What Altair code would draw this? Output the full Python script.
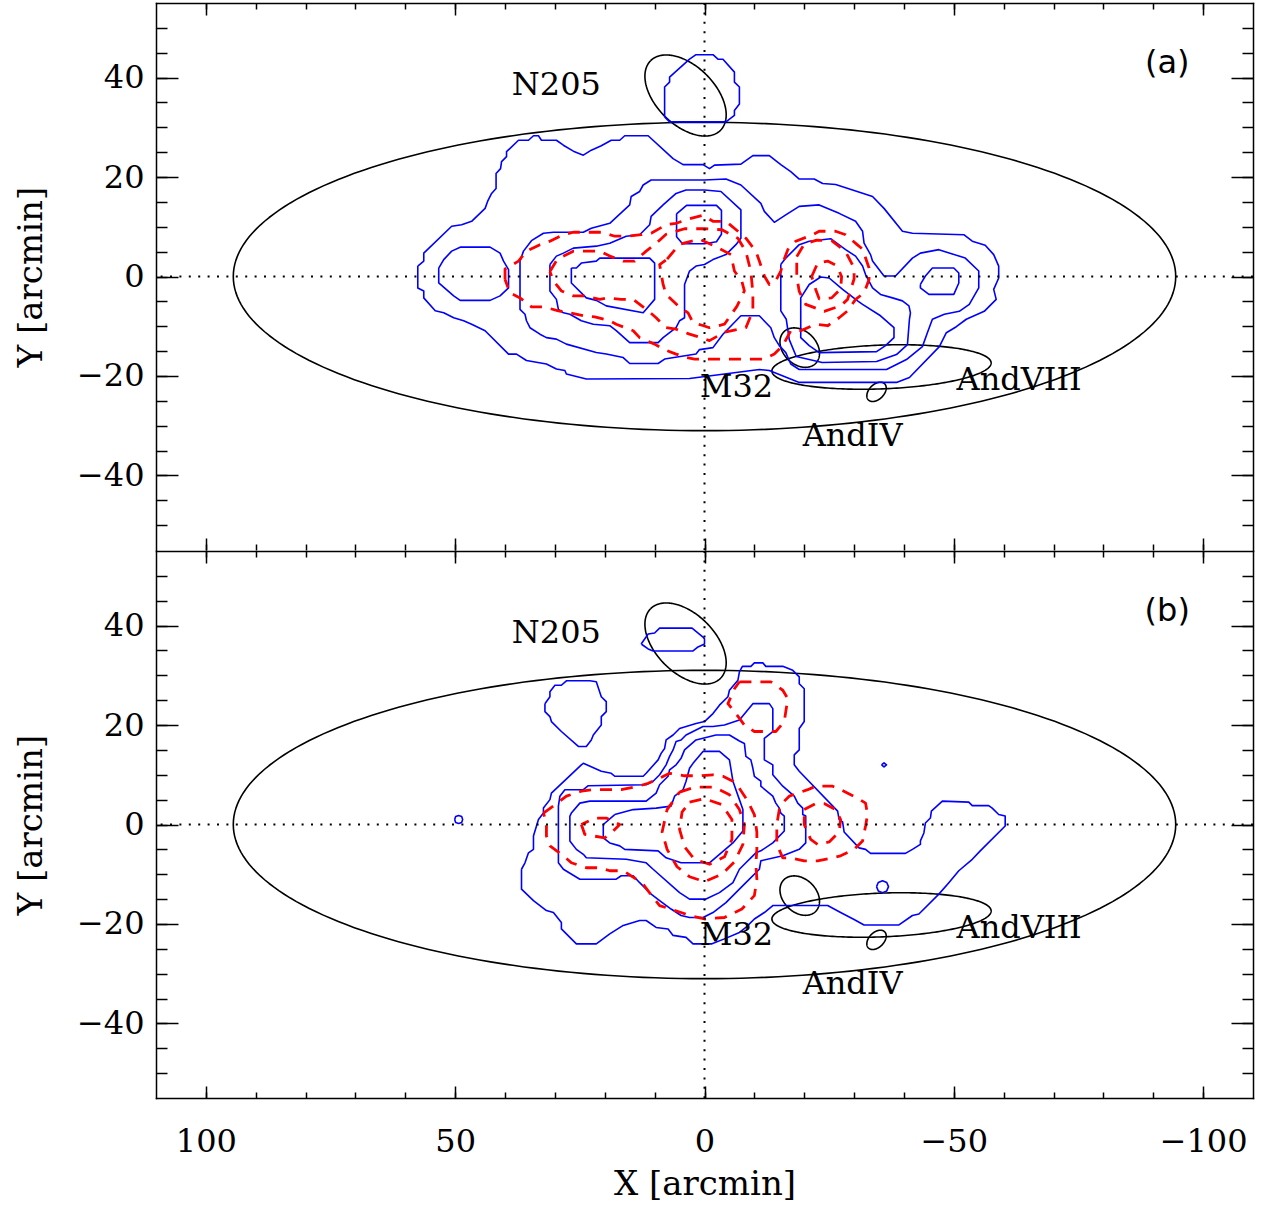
import altair as alt
import numpy as np
import pandas as pd

# ---------------------------------------------------------------
# Density contours, traced in arcmin (X, Y); each list is a closed loop
# ---------------------------------------------------------------

# Panel (a): blue (solid) levels
A_BLUE_OUTER = [
    (57.5, 2.1), (56.3, 3.1), (56.3, 4.7), (50.7, 10.1), (48.7, 10.4), (46.7, 11.1),
    (44.0, 13.7), (43.5, 15.1), (42.7, 16.7), (41.8, 17.7), (41.8, 20.7), (40.9, 21.7),
    (40.7, 23.1), (39.7, 24.1), (39.7, 25.1), (37.3, 27.4), (35.3, 27.4), (34.3, 28.3),
    (33.3, 28.3), (32.7, 27.4), (29.7, 27.4), (28.3, 26.4), (26.3, 25.2), (24.3, 24.4),
    (22.7, 25.4), (20.7, 26.3), (18.7, 27.4), (17.0, 27.4), (16.0, 28.3), (11.3, 28.3),
    (6.3, 23.7), (4.3, 22.5), (0.3, 22.5), (-1.0, 21.7), (-2.0, 22.4), (-7.3, 22.6),
    (-9.7, 24.3), (-13.0, 24.3), (-15.3, 22.5), (-17.3, 21.1), (-19.0, 19.6), (-22.0, 19.6),
    (-23.7, 18.7), (-26.3, 18.5), (-29.7, 17.4), (-33.7, 16.1), (-36.0, 13.7), (-39.7, 9.1),
    (-41.7, 8.7), (-52.0, 8.4), (-53.7, 7.1), (-56.3, 6.3), (-58.0, 4.4), (-59.0, 2.1),
    (-59.0, -0.3), (-58.0, -2.6), (-58.5, -4.6), (-56.1, -7.0), (-52.5, -8.6), (-50.5, -10.1),
    (-48.5, -11.3), (-47.1, -14.1), (-41.1, -20.3), (-38.5, -21.3), (-19.0, -21.3),
    (-17.0, -20.5), (-13.0, -18.9), (-11.0, -18.7), (3.0, -20.5), (23.7, -20.6),
    (27.7, -19.6), (28.0, -18.9), (29.7, -18.6), (31.7, -17.6), (35.7, -16.9), (37.7, -15.6),
    (39.3, -15.6), (44.0, -10.9), (46.7, -9.6), (48.3, -8.9), (50.3, -8.3), (52.3, -7.3),
    (54.0, -6.9), (56.3, -4.3), (56.3, -2.9), (57.5, -2.3),
]
A_BLUE_LEVEL2 = [
    (37.0, 3.1), (36.3, 5.1), (34.7, 7.2), (32.3, 8.7), (30.3, 8.9), (24.3, 8.9), (22.7, 9.7),
    (19.0, 10.7), (15.0, 14.4), (14.7, 16.1), (13.0, 17.1), (12.3, 18.4), (10.7, 19.4),
    (0.0, 19.4), (-4.3, 19.6), (-7.3, 18.4), (-11.3, 14.7), (-12.0, 13.1), (-14.0, 10.9),
    (-16.3, 12.4), (-19.0, 14.1), (-23.0, 14.4), (-27.0, 12.7), (-30.3, 11.1), (-31.7, 9.1),
    (-32.0, 6.7), (-33.3, 4.4), (-33.7, 3.1), (-36.0, 0.1), (-38.3, 0.1), (-41.7, 3.7),
    (-43.3, 4.7), (-47.0, 5.4), (-52.3, 3.7), (-55.0, 1.1), (-55.0, -2.3), (-53.1, -5.6),
    (-51.1, -7.0), (-48.1, -7.6), (-45.7, -8.6), (-44.7, -11.3), (-43.7, -14.1), (-40.5, -16.7),
    (-36.5, -18.7), (-19.0, -18.7), (-17.3, -17.6), (-16.3, -15.3), (-15.0, -13.9),
    (-14.0, -12.3), (-13.3, -10.3), (-11.0, -7.9), (-7.3, -7.9), (-3.7, -11.6), (-1.7, -14.3),
    (1.0, -14.7), (1.7, -15.6), (8.0, -16.6), (9.3, -17.5), (15.0, -17.5), (16.3, -16.3),
    (19.7, -15.6), (21.7, -15.3), (27.7, -13.6), (29.7, -12.6), (31.7, -12.3), (33.0, -11.6),
    (35.0, -10.3), (35.7, -8.9), (36.0, -7.6), (37.0, -6.6),
]
A_BLUE_LEVEL3 = [
    (31.0, 2.4), (29.7, 4.1), (28.3, 4.7), (26.3, 5.7), (21.7, 6.1), (19.0, 6.7), (15.7, 8.1),
    (13.0, 8.4), (12.3, 9.1), (11.0, 10.4), (10.7, 12.1), (8.3, 14.4), (5.7, 16.7), (3.7, 17.4),
    (0.0, 17.4), (-3.3, 17.1), (-7.3, 13.4), (-7.3, 7.7), (-6.3, 6.4), (-4.3, 4.4), (-1.7, 3.4),
    (0.0, 2.4), (1.7, 2.1), (3.0, 1.1), (4.0, -1.6), (4.0, -8.3), (5.0, -8.9), (5.7, -10.3),
    (8.3, -12.3), (9.3, -13.3), (15.0, -13.3), (17.7, -10.9), (19.0, -9.9), (22.3, -9.6),
    (24.7, -8.9), (27.0, -7.6), (28.3, -7.3), (29.3, -6.6), (29.7, -4.6), (31.0, -2.9),
]
A_BLUE_INNER_WEST = [
    (26.7, 1.7), (26.7, -1.3), (23.7, -4.3), (21.7, -4.8), (19.7, -5.9), (12.3, -7.3),
    (10.0, -4.6), (10.0, 2.7), (11.0, 3.7), (21.0, 3.7), (21.7, 3.1), (24.7, 2.7), (25.7, 1.7),
]
A_BLUE_INNER_NORTH = [
    (5.6, 12.6), (3.6, 14.3), (-2.4, 14.3), (-3.4, 13.3), (-3.4, 8.5), (-2.4, 7.0),
    (0.0, 6.6), (4.4, 6.6), (5.6, 8.0),
]
A_BLUE_EAST_L3 = [
    (-15.3, 2.4), (-16.3, 3.7), (-19.0, 6.4), (-21.0, 7.1), (-25.3, 7.6), (-28.3, 5.4),
    (-30.3, 4.1), (-31.7, 2.1), (-32.3, 0.4), (-33.7, -2.3), (-35.3, -3.6), (-37.7, -4.3),
    (-39.7, -4.9), (-41.0, -5.9), (-41.3, -7.3), (-41.1, -8.6), (-40.7, -13.7), (-38.5, -15.7),
    (-34.5, -17.1), (-23.6, -17.3), (-18.4, -16.1), (-17.0, -12.7), (-16.4, -8.6), (-15.3, -6.9),
]
A_BLUE_EAST_L4 = [
    (-23.3, -0.1), (-25.0, -0.3), (-27.7, -2.6), (-30.7, -4.9), (-31.7, -5.6), (-35.3, -7.9),
    (-38.0, -10.3), (-38.0, -12.3), (-36.3, -13.9), (-34.5, -15.1), (-23.0, -15.3),
    (-21.0, -13.9), (-19.3, -12.3), (-19.3, -4.3), (-21.0, -1.6),
]
A_BLUE_WEST_KNOT = [
    (53.3, 1.7), (52.3, 3.4), (50.7, 5.1), (49.0, 5.9), (43.0, 5.9), (41.0, 4.7), (40.3, 3.1),
    (39.3, 1.4), (39.3, -2.3), (41.0, -3.9), (43.0, -4.8), (49.0, -4.8), (50.3, -3.9),
    (53.3, -1.3),
]
A_BLUE_EAST_KNOT = [
    (-43.3, -1.6), (-44.3, 0.1), (-45.7, 1.7), (-50.0, 1.7), (-51.0, 0.7), (-51.0, -1.3),
    (-50.0, -3.6), (-45.0, -3.6), (-43.3, -2.3),
]
A_BLUE_N205 = [
    (8.0, 32.1), (8.0, 38.1), (7.0, 39.1), (7.0, 40.1), (3.0, 43.7), (1.7, 44.6), (-1.7, 44.6),
    (-2.7, 43.7), (-3.7, 43.7), (-6.0, 41.1), (-6.0, 39.1), (-7.0, 38.1), (-7.0, 34.7),
    (-6.0, 33.4), (-6.0, 32.4), (-4.3, 31.1), (7.0, 31.1),
]

# Panel (a): red (dashed) levels
A_RED_OUTER = [
    (40.0, -0.6), (40.0, 1.5), (37.3, 3.1), (35.7, 5.1), (33.0, 6.4), (31.0, 7.1), (28.3, 8.4),
    (26.3, 8.9), (20.7, 8.9), (18.0, 8.1), (15.7, 8.1), (12.7, 8.4), (10.7, 8.7), (7.7, 10.4),
    (5.7, 10.7), (3.0, 11.6), (0.3, 12.3), (-1.7, 11.1), (-4.3, 11.1), (-6.7, 9.1), (-8.3, 7.7),
    (-10.3, 5.1), (-11.0, 3.1), (-12.0, 0.1), (-13.0, -1.6), (-14.2, -1.0), (-15.3, 1.1),
    (-16.0, 3.5), (-16.7, 5.4), (-18.3, 7.1), (-21.7, 8.4), (-23.0, 9.1), (-26.3, 9.1),
    (-28.3, 8.4), (-30.5, 6.5), (-31.7, 5.5), (-33.0, 1.7), (-33.0, -0.6), (-32.0, -3.3),
    (-30.3, -4.6), (-28.7, -6.9), (-27.0, -8.3), (-24.7, -9.9), (-22.3, -9.6), (-19.3, -10.9),
    (-17.3, -10.9), (-15.7, -13.9), (-14.0, -15.6), (-12.0, -16.6), (2.0, -16.6), (3.7, -16.3),
    (5.7, -15.6), (8.3, -14.6), (10.0, -13.6), (13.0, -12.3), (14.3, -10.9), (17.7, -9.6),
    (19.0, -8.9), (22.0, -8.1), (24.3, -7.9), (27.0, -7.3), (29.3, -6.9), (32.3, -6.1),
    (34.7, -6.1), (37.0, -4.3), (39.0, -3.3),
]
A_RED_MIDDLE = [
    (31.0, 1.0), (29.5, 3.5), (26.3, 5.1), (21.0, 5.1), (19.0, 4.1), (16.3, 3.1), (14.0, 3.1),
    (11.7, 5.1), (10.0, 6.4), (7.7, 8.5), (4.0, 9.6), (0.0, 9.6), (-3.5, 9.4), (-6.7, 7.7),
    (-8.3, 5.0), (-9.3, 1.0), (-9.7, -3.3), (-9.7, -6.9), (-8.3, -10.3), (-4.0, -11.2),
    (-1.0, -12.9), (0.7, -12.3), (3.0, -11.6), (5.7, -10.6), (7.7, -10.3), (9.7, -8.3),
    (11.3, -6.9), (14.3, -4.6), (16.7, -4.6), (19.3, -4.3), (21.0, -4.6), (24.3, -3.9),
    (26.3, -3.9), (28.7, -2.9), (30.3, -0.9),
]
A_RED_CORE = [
    (7.5, 3.5), (5.0, 6.5), (1.0, 7.5), (-2.3, 6.0), (-5.3, 4.4), (-6.0, 1.1), (-7.5, -1.0),
    (-8.0, -2.9), (-6.5, -6.0), (-4.0, -9.6), (-1.0, -10.3), (0.5, -9.8), (2.3, -9.3),
    (3.3, -7.3), (5.3, -5.9), (7.7, -3.6), (8.3, -1.6), (9.0, 2.4),
]
A_RED_EAST_MID = [
    (-18.5, 4.0), (-20.0, 6.5), (-22.5, 7.3), (-25.5, 7.2), (-28.3, 5.0), (-30.0, 1.7),
    (-30.0, -0.5), (-28.7, -4.6), (-27.3, -5.9), (-24.0, -7.0), (-20.3, -5.6), (-19.0, -3.0),
    (-18.5, 0.0),
]
A_RED_EAST_CORE = [
    (-21.5, 0.0), (-22.7, 2.7), (-24.7, 3.1), (-26.5, 2.2), (-27.5, 0.0), (-27.3, -2.5),
    (-25.5, -4.3), (-23.0, -4.5), (-22.3, -2.6),
]

# Panel (b): blue (solid) levels
B_BLUE_OUTER = [
    (36.7, -9.0), (36.0, -7.7), (35.3, -5.7), (34.3, -5.0), (34.3, -2.3), (33.3, 1.0),
    (32.3, 2.3), (32.3, 3.3), (31.0, 5.0), (30.7, 6.3), (24.7, 12.0), (24.3, 12.3),
    (20.7, 10.7), (18.7, 10.3), (18.0, 9.7), (12.3, 9.7), (11.7, 10.3), (9.3, 13.0),
    (8.7, 14.3), (8.0, 15.3), (7.7, 17.0), (6.3, 18.0), (5.0, 19.3), (1.7, 20.3), (0.0, 20.7),
    (-1.7, 22.3), (-3.0, 24.0), (-4.7, 25.7), (-5.0, 27.0), (-6.7, 29.0), (-7.0, 30.7),
    (-7.6, 31.8), (-9.3, 31.8), (-10.0, 32.5), (-11.7, 32.5), (-12.3, 31.8), (-15.7, 31.8),
    (-17.7, 31.0), (-19.0, 29.7), (-19.0, 28.3), (-20.0, 27.3), (-20.0, 20.7), (-19.0, 19.3),
    (-19.0, 15.0), (-18.0, 14.0), (-18.0, 12.0), (-19.0, 10.7), (-26.7, 2.7), (-27.0, 1.0),
    (-27.7, 0.5), (-28.0, -1.5), (-31.0, -4.7), (-32.3, -5.0), (-33.3, -5.8), (-40.3, -5.8),
    (-41.7, -5.0), (-43.3, -4.0), (-43.3, -3.3), (-44.0, -1.7), (-44.3, 0.3), (-45.3, 1.3),
    (-45.5, 2.7), (-47.7, 4.7), (-53.0, 4.5), (-53.7, 3.8), (-57.0, 3.8), (-57.7, 3.3),
    (-59.0, 2.0), (-60.3, 1.7), (-60.3, -0.3), (-55.3, -5.3), (-53.7, -7.0), (-51.0, -9.3),
    (-49.0, -11.7), (-47.0, -14.0), (-43.0, -18.0), (-41.7, -18.3), (-39.0, -20.2),
    (-32.0, -20.2), (-30.0, -19.1), (-27.3, -17.7), (-24.7, -16.3), (-13.7, -16.3),
    (-12.0, -17.7), (-10.0, -19.0), (-8.3, -20.7), (-7.0, -21.7), (-4.0, -23.0), (-1.5, -24.0),
    (2.3, -24.0), (3.7, -22.7), (6.3, -22.3), (7.3, -21.0), (9.7, -20.7), (11.7, -19.3),
    (13.0, -19.3), (16.3, -20.3), (19.0, -22.0), (21.7, -24.0), (25.7, -24.0), (28.7, -21.0),
    (28.7, -19.7), (30.3, -17.7), (31.7, -17.3), (34.3, -15.3), (36.7, -13.0),
]
B_BLUE_LEVEL2 = [
    (-1.7, 19.7), (0.3, 19.7), (2.3, 18.7), (3.7, 18.0), (4.7, 17.0), (5.7, 16.7), (6.3, 15.0),
    (7.0, 13.7), (7.7, 12.0), (9.0, 10.0), (10.3, 8.7), (11.7, 8.0), (23.3, 7.8), (24.3, 7.0),
    (28.0, 7.0), (29.0, 5.7), (29.3, 3.7), (29.3, -7.7), (28.3, -9.0), (25.0, -11.0),
    (17.7, -11.0), (16.7, -10.3), (14.3, -10.3), (13.0, -11.7), (10.7, -14.0), (9.0, -15.3),
    (6.7, -17.0), (4.7, -18.3), (3.0, -18.7), (0.3, -18.7), (-1.7, -17.7), (-4.3, -15.7),
    (-6.3, -13.7), (-8.3, -11.7), (-11.0, -9.0), (-11.3, -7.3), (-15.7, -6.3), (-19.0, -5.0),
    (-20.3, -3.7), (-20.3, 1.7), (-19.7, 2.0), (-19.7, 3.3), (-18.7, 4.3), (-18.0, 5.7),
    (-15.7, 7.7), (-13.7, 10.0), (-13.7, 12.0), (-12.0, 13.0), (-12.0, 17.3), (-13.7, 18.7),
    (-13.7, 23.3), (-13.0, 24.3), (-9.7, 24.3), (-7.0, 21.0), (-4.0, 20.0),
]
B_BLUE_LEVEL3 = [
    (27.0, 1.7), (26.7, 2.3), (25.0, 4.3), (23.0, 4.7), (11.7, 4.7), (9.7, 6.3), (9.0, 8.0),
    (7.3, 9.7), (7.0, 11.0), (5.7, 12.0), (4.7, 13.3), (4.0, 15.0), (1.7, 17.0), (-2.3, 18.0),
    (-5.0, 18.0), (-7.0, 16.8), (-8.0, 16.3), (-8.3, 13.7), (-9.3, 13.0), (-9.7, 11.3),
    (-10.0, 9.7), (-11.3, 8.7), (-11.3, 7.7), (-13.7, 5.7), (-14.3, 4.3), (-15.0, 3.3),
    (-15.3, 2.3), (-16.0, 1.7), (-16.0, -1.3), (-13.7, -3.7), (-11.3, -5.3), (-10.3, -5.7),
    (-9.7, -6.3), (-8.3, -7.7), (-7.0, -9.0), (-5.7, -11.7), (-3.0, -13.7), (-0.3, -15.0),
    (3.0, -15.0), (5.0, -13.7), (10.3, -9.0), (11.7, -7.7), (15.7, -7.0), (23.7, -6.7),
    (24.3, -6.0), (25.7, -5.0), (27.0, -3.3),
]
B_BLUE_CORE = [
    (18.0, 2.0), (20.3, 0.0), (20.3, -2.7), (19.0, -3.7), (17.0, -4.3), (16.0, -5.0),
    (9.3, -5.3), (7.7, -6.7), (4.7, -7.7), (-1.0, -7.7), (-5.7, -3.7), (-7.7, -1.3),
    (-7.7, 3.0), (-7.0, 5.0), (-5.7, 8.7), (-5.0, 13.0), (-3.0, 14.7), (0.3, 14.7), (2.3, 12.3),
    (3.0, 11.3), (3.7, 8.7), (4.3, 7.0), (6.0, 5.7), (6.7, 3.7), (9.7, 3.3), (14.3, 3.0),
]
B_BLUE_NORTH_KNOT = [
    (32.0, 24.3), (32.0, 22.7), (31.0, 21.7), (30.7, 20.7), (28.7, 18.7), (25.3, 15.7),
    (23.7, 15.7), (22.7, 17.0), (22.3, 18.0), (20.7, 20.0), (20.7, 21.7), (19.7, 22.7),
    (19.7, 24.7), (20.7, 25.7), (21.7, 28.7), (23.0, 28.9), (27.7, 28.9), (28.7, 28.0),
    (30.0, 28.0), (31.0, 26.7), (31.0, 25.7),
]
B_BLUE_N205 = [
    (12.7, 36.3), (11.3, 38.3), (10.0, 38.5), (9.0, 39.5), (2.5, 39.5), (0.3, 37.7), (0.0, 37.3),
    (0.0, 36.3), (1.3, 35.7), (2.3, 34.9), (10.3, 34.9), (11.3, 35.3),
]
B_BLUE_SPECK_WEST = [
    (50.1, 1.0), (49.9, 1.6), (49.3, 1.8), (48.7, 1.6), (48.5, 1.0), (48.7, 0.4), (49.3, 0.2),
    (49.9, 0.4),
]
B_BLUE_SPECK_SOUTH = [
    (-34.5, -12.5), (-34.85, -11.65), (-35.7, -11.3), (-36.55, -11.65), (-36.9, -12.5),
    (-36.55, -13.35), (-35.7, -13.7), (-34.85, -13.35),
]
B_BLUE_SPECK_NORTH = [(-35.5, 12.0), (-36.0, 12.4), (-36.5, 12.0), (-36.0, 11.6)]

# Panel (b): red (dashed) levels
B_RED_OUTER = [
    (32.3, 2.3), (29.0, 4.7), (27.7, 5.7), (24.7, 6.7), (22.3, 7.0), (16.7, 7.0), (13.3, 7.7),
    (11.3, 8.3), (9.0, 9.3), (7.0, 10.3), (4.0, 9.8), (1.0, 9.8), (-1.7, 10.0), (-3.7, 9.7),
    (-5.7, 8.7), (-6.7, 7.7), (-8.5, 5.0), (-10.0, 2.0), (-10.5, -1.5), (-10.5, -5.0),
    (-10.3, -8.0), (-10.5, -11.0), (-10.0, -14.3), (-7.5, -17.0), (-4.0, -18.7), (0.0, -19.0),
    (3.0, -18.3), (4.7, -17.7), (9.0, -16.3), (10.3, -14.7), (12.3, -12.0), (13.7, -11.0),
    (16.3, -9.3), (19.0, -9.3), (21.3, -8.7), (23.7, -8.7), (26.7, -7.7), (28.3, -6.3),
    (31.0, -4.3), (31.7, -2.3), (31.7, 0.3),
]
B_RED_EAST = [
    (-16.0, 4.7), (-17.0, 5.7), (-20.7, 7.0), (-22.3, 7.7), (-25.7, 7.7), (-27.3, 7.0),
    (-30.7, 5.3), (-32.3, 4.3), (-32.7, 2.0), (-32.3, -0.3), (-31.7, -3.3), (-30.0, -5.0),
    (-27.3, -6.3), (-25.7, -6.7), (-22.7, -7.3), (-20.0, -7.3), (-17.3, -6.7), (-15.7, -6.7),
    (-14.5, -4.0), (-14.5, 0.0), (-15.0, 3.0),
]
B_RED_ARM = [
    (-7.0, 28.7), (-13.3, 28.7), (-15.7, 27.0), (-16.7, 25.3), (-16.3, 22.7), (-16.0, 20.7),
    (-14.3, 18.7), (-10.0, 18.7), (-8.0, 20.0), (-6.0, 22.7), (-4.7, 24.3), (-6.0, 27.3),
]
B_RED_MIDDLE = [
    (5.0, 6.5), (2.0, 7.5), (-2.0, 7.5), (-5.0, 6.0), (-7.0, 3.0), (-8.0, 0.0), (-7.7, -4.0),
    (-6.0, -7.5), (-3.5, -10.0), (0.0, -11.5), (3.0, -10.5), (5.5, -8.5), (7.5, -5.0),
    (8.5, -1.5), (7.5, 3.0),
]
B_RED_CORE = [
    (3.0, 4.5), (0.0, 5.2), (-3.5, 4.0), (-5.5, 1.0), (-5.5, -3.0), (-4.0, -6.5), (-1.0, -8.0),
    (2.0, -7.0), (4.0, -4.5), (5.0, -1.0), (4.5, 2.5),
]
B_RED_WEST_CORE = [
    (24.7, 0.0), (24.0, -2.0), (22.3, -2.3), (20.0, -2.7), (18.3, -1.3), (17.0, 0.0),
    (19.7, 1.3), (22.0, 1.3),
]
B_RED_EAST_CORE = [
    (-20.0, 3.0), (-22.3, 4.2), (-24.0, 4.2), (-26.3, 3.0), (-27.3, 1.0), (-27.0, -1.5),
    (-25.0, -3.5), (-22.7, -4.0), (-21.3, -3.0), (-20.0, 0.0),
]

# Galaxy outlines: name, centre X, centre Y, semi-major, semi-minor, angle (deg)
ELLIPSES = [
    ("M31", 0.0, 0.0, 94.5, 31.0, 0.0),
    ("NGC205", 3.8, 36.4, 9.9, 5.9, 45.0),
    ("M32", -19.1, -14.3, 4.5, 3.35, 45.0),
    ("AndVIII", -35.5, -18.2, 22.0, 4.4, -2.2),
    ("AndIV", -34.5, -23.2, 2.3, 1.5, -45.0),
]

# Annotations
NAME_TEXT = ["N205", "M32", "AndVIII", "AndIV"]
NAME_X = [29.7, -6.4, -63.1, -29.7]
NAME_Y = [38.6, -22.3, -20.9, -32.0]
PANEL_TAG_X = -92.8
PANEL_TAG_Y = 43.0

# Axis ticks
X_MAJOR = [-100, -50, 0, 50, 100]
X_MINOR = list(range(-100, 101, 10))
Y_MAJOR = [-40, -20, 0, 20, 40]
Y_MINOR = list(range(-50, 51, 5))

BLUE = "#0000ff"
RED = "#ff0000"
SERIF = "DejaVu Serif"
W, H = 1097, 547

X_SCALE = alt.Scale(domain=[-110, 110], reverse=True, nice=False, zero=False)
Y_SCALE = alt.Scale(domain=[-55, 55], nice=False, zero=False)
MINUS = "datum.value < 0 ? '\u2212' + abs(datum.value) : '' + datum.value"


def loops_frame(loops):
    rows = []
    for name, pts in loops.items():
        for i, (x, y) in enumerate(list(pts) + [pts[0]]):
            rows.append({"trace": name, "i": i, "x": x, "y": y})
    return pd.DataFrame(rows)


def ellipse_frame():
    rows = []
    t = np.linspace(0.0, 2.0 * np.pi, 241)
    for name, x0, y0, a, b, ang in ELLIPSES:
        th = np.radians(ang)
        xs = x0 + a * np.cos(th) * np.cos(t) - b * np.sin(th) * np.sin(t)
        ys = y0 + a * np.sin(th) * np.cos(t) + b * np.cos(th) * np.sin(t)
        for i, (x, y) in enumerate(zip(xs, ys)):
            rows.append({"trace": name, "i": i, "x": float(x), "y": float(y)})
    return pd.DataFrame(rows)


def enc_xy():
    return dict(
        x=alt.X("x:Q", scale=X_SCALE, axis=None),
        y=alt.Y("y:Q", scale=Y_SCALE, axis=None),
    )


def line_layer(df, color, width, dash=None):
    kw = dict(color=color, strokeWidth=width, clip=True, strokeJoin="round")
    if dash is not None:
        kw["strokeDash"] = dash
    return alt.Chart(df).mark_line(**kw).encode(
        detail="trace:N", order="i:Q", **enc_xy()
    )


def tick_axis(orient, values, size):
    # inward-pointing ticks: shift the axis into the plot by the tick length
    return alt.Axis(orient=orient, values=values, tickSize=size, offset=-size, labels=False,
                    grid=False, domain=False, tickColor="black", tickWidth=1.5)


def frame_axis(orient):
    # a bare domain line drawn along one edge of the plot
    return alt.Axis(orient=orient, ticks=False, labels=False, grid=False, domain=True,
                    domainColor="black", domainWidth=1.5, domainCap="square")


def axis_layers(with_x_labels):
    dummy = alt.Chart(pd.DataFrame({"x": [0.0], "y": [0.0]})).mark_point(opacity=0)
    tick = dict(grid=False, domain=False, tickColor="black", tickWidth=1.5)

    if with_x_labels:
        xb = alt.X("x:Q", scale=X_SCALE, title="X [arcmin]", axis=alt.Axis(
            orient="bottom", values=X_MAJOR, tickSize=12, offset=-12, labels=True,
            labelExpr=MINUS, labelFont=SERIF, labelFontSize=32, labelColor="black",
            labelPadding=28, titleFont=SERIF, titleFontSize=34, titleFontWeight="normal",
            titleColor="black", titleX=W / 2, titleY=98, titleBaseline="middle",
            titleAlign="center", **tick))
    else:
        xb = alt.X("x:Q", scale=X_SCALE, title=None, axis=tick_axis("bottom", X_MAJOR, 12))
    yl = alt.Y("y:Q", scale=Y_SCALE, title="Y [arcmin]", axis=alt.Axis(
        orient="left", values=Y_MAJOR, tickSize=22, offset=-22, labels=True,
        labelExpr=MINUS, labelFont=SERIF, labelFontSize=32, labelColor="black",
        labelPadding=12, titleFont=SERIF, titleFontSize=34, titleFontWeight="normal",
        titleColor="black", titleX=-146.5, titleY=H / 2, titleBaseline="middle",
        titleAlign="center", titleAngle=270, **tick))

    def xa(axis):
        return alt.X("x:Q", scale=X_SCALE, title=None, axis=axis)

    def ya(axis):
        return alt.Y("y:Q", scale=Y_SCALE, title=None, axis=axis)

    layers = [
        dummy.encode(x=xb, y=yl),
        dummy.encode(x=xa(tick_axis("bottom", X_MINOR, 6)), y=ya(tick_axis("left", Y_MINOR, 11))),
        dummy.encode(x=xa(tick_axis("top", X_MAJOR, 12)), y=ya(tick_axis("right", Y_MAJOR, 22))),
        dummy.encode(x=xa(tick_axis("top", X_MINOR, 6)), y=ya(tick_axis("right", Y_MINOR, 11))),
        dummy.encode(x=xa(frame_axis("top")), y=ya(frame_axis("left"))),
    ]
    if with_x_labels:
        layers.append(dummy.encode(x=xa(frame_axis("bottom")), y=ya(frame_axis("right"))))
    else:
        layers.append(dummy.encode(x=xa(None), y=ya(frame_axis("right"))))
    return layers


def panel(tag, blue, red, with_x_labels):
    ell = line_layer(ellipse_frame(), "black", 1.6)
    blue_l = line_layer(loops_frame(blue), BLUE, 1.6)
    red_l = line_layer(loops_frame(red), RED, 2.8, dash=[12, 9])

    vline = alt.Chart(pd.DataFrame({"x": [0.0]})).mark_rule(
        color="black", strokeWidth=2, strokeDash=[2, 7.4]
    ).encode(x=alt.X("x:Q", scale=X_SCALE, axis=None))
    hline = alt.Chart(pd.DataFrame({"y": [0.0]})).mark_rule(
        color="black", strokeWidth=2, strokeDash=[2, 7.4]
    ).encode(y=alt.Y("y:Q", scale=Y_SCALE, axis=None))

    names = alt.Chart(pd.DataFrame({"x": NAME_X, "y": NAME_Y, "t": NAME_TEXT})).mark_text(
        font=SERIF, fontSize=32, color="black", align="center", baseline="middle"
    ).encode(text="t:N", **enc_xy())
    tag_l = alt.Chart(pd.DataFrame({"x": [PANEL_TAG_X], "y": [PANEL_TAG_Y], "t": [tag]})).mark_text(
        font="DejaVu Sans", fontSize=32, color="black", align="center", baseline="middle"
    ).encode(text="t:N", **enc_xy())

    layers = [ell, blue_l, red_l, vline, hline, names, tag_l] + axis_layers(with_x_labels)
    return alt.layer(*layers).resolve_axis(x="independent", y="independent").properties(
        width=W, height=H
    )


panel_a = panel(
    "(a)",
    {
        "outer": A_BLUE_OUTER, "l2": A_BLUE_LEVEL2, "l3": A_BLUE_LEVEL3,
        "inner_w": A_BLUE_INNER_WEST, "inner_n": A_BLUE_INNER_NORTH,
        "east3": A_BLUE_EAST_L3, "east4": A_BLUE_EAST_L4,
        "knot_w": A_BLUE_WEST_KNOT, "knot_e": A_BLUE_EAST_KNOT, "n205": A_BLUE_N205,
    },
    {
        "outer": A_RED_OUTER, "mid": A_RED_MIDDLE, "core": A_RED_CORE,
        "east_mid": A_RED_EAST_MID, "east_core": A_RED_EAST_CORE,
    },
    False,
)
panel_b = panel(
    "(b)",
    {
        "outer": B_BLUE_OUTER, "l2": B_BLUE_LEVEL2, "l3": B_BLUE_LEVEL3, "core": B_BLUE_CORE,
        "knot_n": B_BLUE_NORTH_KNOT, "n205": B_BLUE_N205, "speck_w": B_BLUE_SPECK_WEST,
        "speck_s": B_BLUE_SPECK_SOUTH, "speck_n": B_BLUE_SPECK_NORTH,
    },
    {
        "outer": B_RED_OUTER, "east": B_RED_EAST, "arm": B_RED_ARM, "mid": B_RED_MIDDLE,
        "core": B_RED_CORE, "west_core": B_RED_WEST_CORE, "east_core": B_RED_EAST_CORE,
    },
    True,
)

chart = alt.vconcat(panel_a, panel_b, spacing=-1).configure_view(
    strokeOpacity=0
).properties(
    padding={"left": 14, "top": 2, "right": 10, "bottom": 5},
    background="white",
)

chart.save("out.html", embed_options={"renderer": "svg", "actions": False})
